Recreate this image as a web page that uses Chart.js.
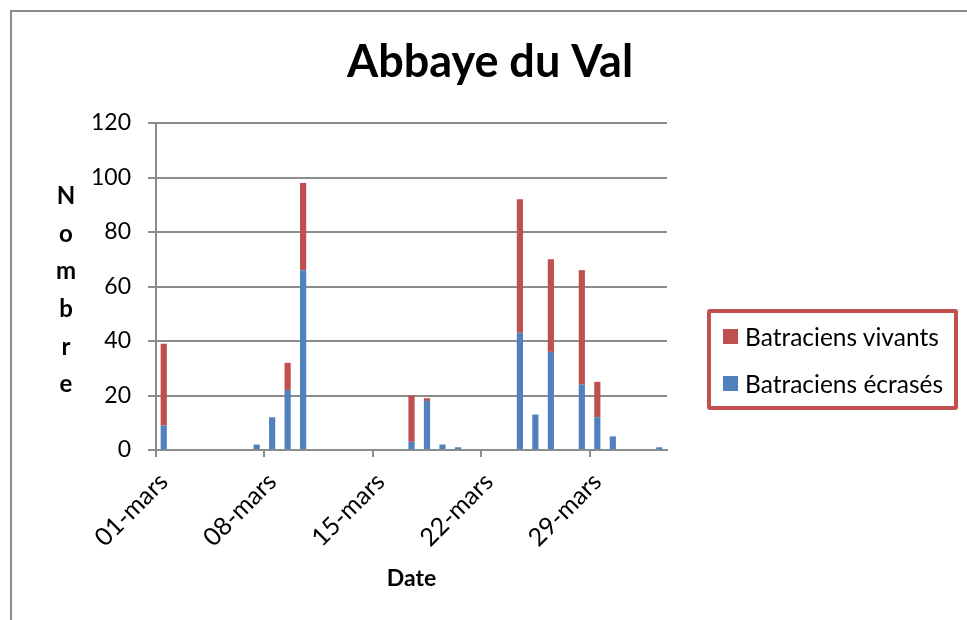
<!DOCTYPE html>
<html>
<head>
<meta charset="utf-8">
<script src="https://cdn.jsdelivr.net/npm/chart.js@4"></script>
<style>
  body { margin: 0; background: #fff; }
  #wrap { position: relative; width: 967px; height: 620px; }
  #legend {
    position: absolute; left: 707px; top: 309px; width: 251px; height: 101px;
    box-sizing: border-box; border: 4px solid #C0504D; border-radius: 3px;
    font-family: Lato, sans-serif; font-size: 24.5px; color: #000;
  }
  #legend .item { position: absolute; left: 12px; display: flex; align-items: center; white-space: nowrap; }
  #legend .box { width: 15px; height: 15px; margin-right: 7px; }
</style>
</head>
<body>
<div id="wrap">
  <canvas id="chart" width="967" height="620"></canvas>
  <div id="legend"></div>
</div>
<script>
// Dates (une barre par jour)
const dates = ['01-mars','02-mars','03-mars','04-mars','05-mars','06-mars','07-mars',
  '08-mars','09-mars','10-mars','11-mars','12-mars','13-mars','14-mars',
  '15-mars','16-mars','17-mars','18-mars','19-mars','20-mars','21-mars',
  '22-mars','23-mars','24-mars','25-mars','26-mars','27-mars','28-mars',
  '29-mars','30-mars','31-mars','01-avr','02-avr'];

// Valeurs
const ecrases = [9,0,0,0,0,0,2,12,22,66, 0,0,0,0,0,0,3,18,2,1, 0,0,0,43,13,36,0,24,12,5, 0,0,1];
const vivants = [30,0,0,0,0,0,0,0,10,32, 0,0,0,0,0,0,17,1,0,0, 0,0,0,49,0,34,0,42,13,0, 0,0,0];

const yTicks = [0, 20, 40, 60, 80, 100, 120];

const grey = '#8c8c8c';
Chart.defaults.font.family = 'Lato, sans-serif';
Chart.defaults.color = '#000';

// cadre + titre vertical "Nombre"
const extras = {
  id: 'extras',
  beforeDraw(chart) {
    const ctx = chart.ctx;
    ctx.save();
    ctx.strokeStyle = grey;
    ctx.lineWidth = 2;
    ctx.beginPath();
    ctx.moveTo(11, 620); ctx.lineTo(11, 11); ctx.lineTo(967, 11);
    ctx.stroke();
    ctx.restore();
  },
  afterDraw(chart) {
    const ctx = chart.ctx;
    const letters = 'Nombre'.split('');
    const mid = (chart.chartArea.top + chart.chartArea.bottom) / 2 + 4;
    ctx.save();
    ctx.font = 'bold 24px Lato, sans-serif';
    ctx.fillStyle = '#000';
    ctx.textAlign = 'center';
    ctx.textBaseline = 'middle';
    letters.forEach((l, i) => {
      ctx.fillText(l, 66, mid + (i - (letters.length - 1) / 2) * 37.6);
    });
    ctx.restore();
  }
};

const chart = new Chart(document.getElementById('chart'), {
  type: 'bar',
  data: {
    labels: dates,
    datasets: [
      { label: 'Batraciens écrasés', data: ecrases, backgroundColor: '#4F81BD' },
      { label: 'Batraciens vivants', data: vivants, backgroundColor: '#C0504D' }
    ]
  },
  options: {
    responsive: false,
    animation: false,
    layout: { padding: { left: 13, top: 0, right: 0, bottom: 0 } },
    datasets: { bar: { categoryPercentage: 1, barPercentage: 0.4 } },
    plugins: {
      legend: { display: false },
      tooltip: { enabled: false },
      title: {
        display: true,
        text: 'Abbaye du Val',
        font: { size: 45, weight: 'bold', lineHeight: 1.2 },
        color: '#000',
        padding: { top: 35, bottom: 34 }
      }
    },
    scales: {
      x: {
        stacked: true,
        offset: true,
        grid: {
          offset: true,
          drawOnChartArea: false,
          tickLength: 7,
          lineWidth: 2,
          color: ctx => (ctx.index % 7 === 0 ? grey : 'rgba(0,0,0,0)')
        },
        border: { color: grey, width: 2 },
        ticks: {
          autoSkip: false,
          maxRotation: 45,
          minRotation: 45,
          padding: 10,
          font: { size: 25 },
          callback: (v, i) => (i % 7 === 0 ? dates[i] : '')
        },
        title: {
          display: true,
          text: 'Date',
          font: { size: 23, weight: 'bold' },
          padding: { top: 0, bottom: 28 }
        },
        afterFit: s => { s.height = 170; }
      },
      y: {
        stacked: true,
        min: 0,
        max: 120,
        afterBuildTicks: s => { s.ticks = yTicks.map(v => ({ value: v })); },
        grid: { color: grey, lineWidth: 2, tickLength: 8 },
        border: { color: grey, width: 2 },
        ticks: { padding: 17, font: { size: 23 } },
        afterFit: s => { s.width = 143; }
      },
      yRight: {
        type: 'linear',
        position: 'right',
        grid: { display: false },
        border: { display: false },
        ticks: { display: false },
        afterFit: s => { s.width = 300; }
      }
    }
  },
  plugins: [extras]
});

// légende (ordre inversé comme dans Excel)
const legend = document.getElementById('legend');
const tops = [16, 63];
chart.data.datasets.slice().reverse().forEach((ds, i) => {
  const item = document.createElement('div');
  item.className = 'item';
  item.style.top = (tops[i] - 7) + 'px';
  item.innerHTML = '<span class="box" style="background:' + ds.backgroundColor + '"></span><span>' + ds.label + '</span>';
  legend.appendChild(item);
});
</script>
</body>
</html>
